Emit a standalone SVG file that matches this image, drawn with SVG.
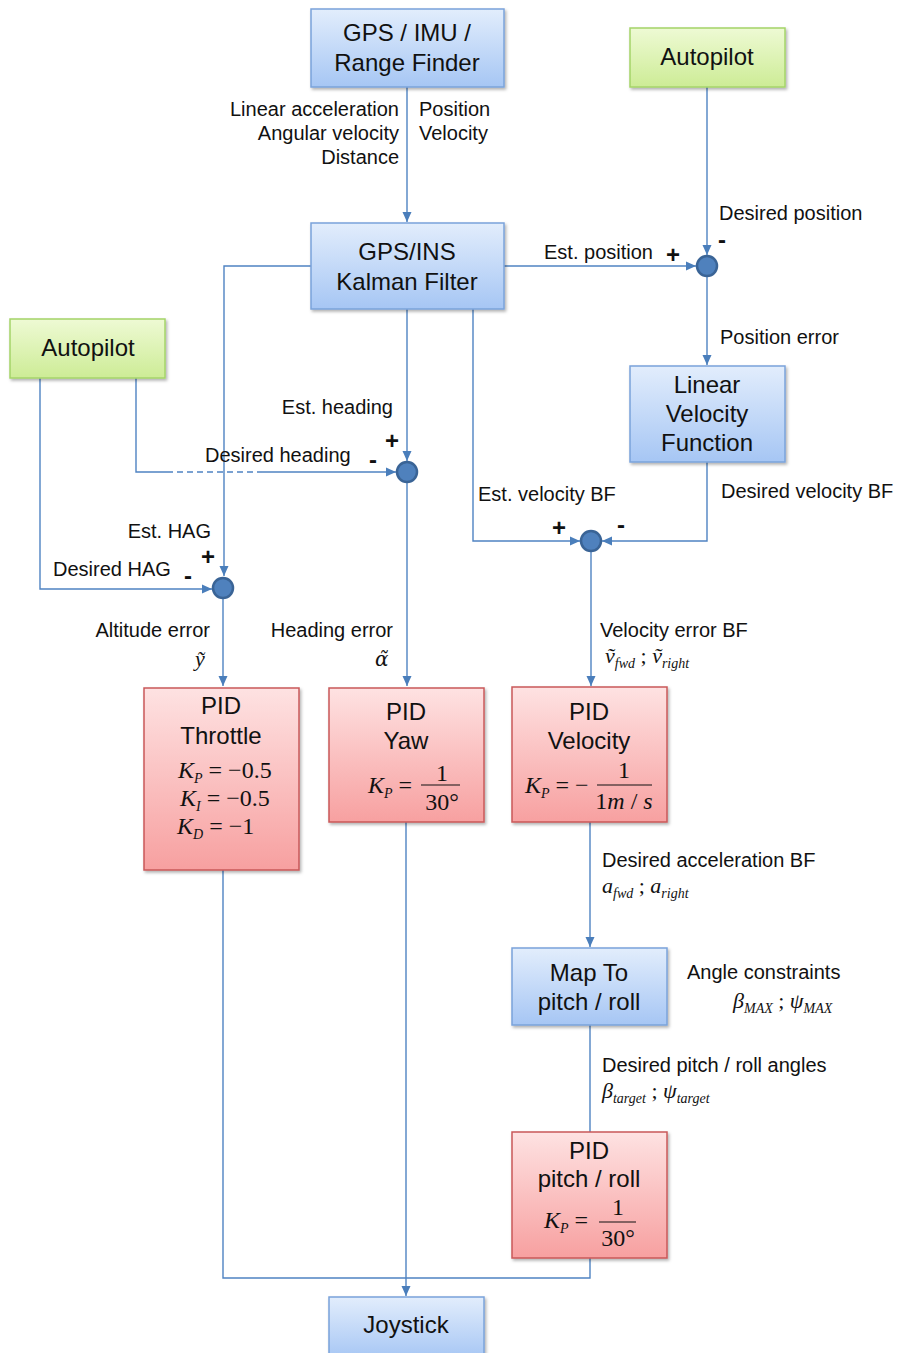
<svg xmlns="http://www.w3.org/2000/svg" width="897" height="1353" viewBox="0 0 897 1353">
  <defs>
    <linearGradient id="gBlue" x1="0" y1="0" x2="0" y2="1">
      <stop offset="0" stop-color="#e2edfc"/>
      <stop offset="1" stop-color="#a6c6f4"/>
    </linearGradient>
    <linearGradient id="gGreen" x1="0" y1="0" x2="0" y2="1">
      <stop offset="0" stop-color="#eefad4"/>
      <stop offset="1" stop-color="#cdec96"/>
    </linearGradient>
    <linearGradient id="gRed" x1="0" y1="0" x2="0" y2="1">
      <stop offset="0" stop-color="#fee2e2"/>
      <stop offset="1" stop-color="#f7a0a0"/>
    </linearGradient>
    <filter id="shadow" x="-10%" y="-10%" width="125%" height="125%">
      <feDropShadow dx="1.5" dy="2" stdDeviation="1.5" flood-color="#000" flood-opacity="0.3"/>
    </filter>
    <marker id="arrow" viewBox="0 0 10 10" refX="10" refY="5" markerWidth="10" markerHeight="10" markerUnits="userSpaceOnUse" orient="auto">
      <path d="M0,0.5 L10,5 L0,9.5 Z" fill="#4a7ebb"/>
    </marker>
  </defs>
  <style>
    .blue { fill: url(#gBlue); stroke: #7aa3da; stroke-width: 1.5; filter: url(#shadow); }
    .green { fill: url(#gGreen); stroke: #a4d468; stroke-width: 1.5; filter: url(#shadow); }
    .red { fill: url(#gRed); stroke: #c9585a; stroke-width: 1.5; filter: url(#shadow); }
    .bt { font-family: "Liberation Sans", Arial, sans-serif; font-size: 24px; fill: #111; text-anchor: middle; }
    .lb { font-family: "Liberation Sans", Arial, sans-serif; font-size: 20px; fill: #111; }
    .sg { font-family: "Liberation Sans", Arial, sans-serif; font-size: 24px; font-weight: bold; fill: #111; }
    .m { font-family: "Liberation Serif", "Times New Roman", serif; font-size: 22px; fill: #111; }
    .mb { font-family: "Liberation Serif", "Times New Roman", serif; font-size: 24px; fill: #111; }
    .mi { font-style: italic; }
    .sub { font-size: 14px; font-style: italic; }
    .w { fill: none; stroke: #4f83c2; stroke-width: 1.4; }
    .wa { fill: none; stroke: #4f83c2; stroke-width: 1.4; marker-end: url(#arrow); }
    .dash { fill: none; stroke: #4f83c2; stroke-width: 1.4; stroke-dasharray: 6 4; }
    .sum { fill: #4f81bd; stroke: #3a6496; stroke-width: 2.5; }
    .fr { stroke: #111; stroke-width: 1.2; }
  </style>

  <!-- signal lines -->
  <g id="connectors">
    <path class="wa" d="M407 87 V222"/>
    <path class="wa" d="M504 266 H696"/>
    <path class="wa" d="M707 87 V255"/>
    <path class="wa" d="M707 277 V365"/>
    <path class="wa" d="M707 462 V541 H602"/>
    <path class="wa" d="M473 309 V541 H580"/>
    <path class="wa" d="M591 552 V686"/>
    <path class="wa" d="M311 266 H224 V576"/>
    <path class="wa" d="M40 378 V589 H212"/>
    <path class="w" d="M136 378 V472 H167"/>
    <path class="dash" d="M167 472 H262"/>
    <path class="wa" d="M262 472 H396"/>
    <path class="wa" d="M407 309 V461"/>
    <path class="wa" d="M407 483 V686"/>
    <path class="wa" d="M223 599 V686"/>
    <path class="wa" d="M590 822 V947"/>
    <path class="w" d="M590 1025 V1132"/>
    <path class="w" d="M223 870 V1278 H590 V1258"/>
    <path class="wa" d="M406 822 V1296"/>
  </g>

  <!-- summing junctions -->
  <g id="sum-position"><circle class="sum" cx="707" cy="266" r="10"/></g>
  <g id="sum-velocity"><circle class="sum" cx="591" cy="541" r="10"/></g>
  <g id="sum-heading"><circle class="sum" cx="407" cy="472" r="10"/></g>
  <g id="sum-hag"><circle class="sum" cx="223" cy="588" r="10"/></g>

  <!-- blocks -->
  <g id="sensors">
    <rect class="blue" x="311" y="9" width="193" height="78"/>
    <text class="bt" x="407" y="41">GPS / IMU /</text>
    <text class="bt" x="407" y="71">Range Finder</text>
  </g>
  <g id="kalman">
    <rect class="blue" x="311" y="223" width="193" height="86"/>
    <text class="bt" x="407" y="260">GPS/INS</text>
    <text class="bt" x="407" y="290">Kalman Filter</text>
  </g>
  <g id="autopilot-position">
    <rect class="green" x="630" y="28" width="155" height="59"/>
    <text class="bt" x="707" y="65">Autopilot</text>
  </g>
  <g id="autopilot-attitude">
    <rect class="green" x="10" y="319" width="155" height="59"/>
    <text class="bt" x="88" y="356">Autopilot</text>
  </g>
  <g id="linear-velocity">
    <rect class="blue" x="630" y="366" width="155" height="96"/>
    <text class="bt" x="707" y="393">Linear</text>
    <text class="bt" x="707" y="422">Velocity</text>
    <text class="bt" x="707" y="451">Function</text>
  </g>
  <g id="pid-throttle">
    <rect class="red" x="144" y="688" width="155" height="182"/>
    <text class="bt" x="221" y="714">PID</text>
    <text class="bt" x="221" y="744">Throttle</text>
    <text class="mb" x="178" y="778"><tspan class="mi">K</tspan><tspan class="sub" dy="5">P</tspan><tspan dy="-5"> = −0.5</tspan></text>
    <text class="mb" x="180" y="806"><tspan class="mi">K</tspan><tspan class="sub" dy="5">I</tspan><tspan dy="-5">  = −0.5</tspan></text>
    <text class="mb" x="177" y="834"><tspan class="mi">K</tspan><tspan class="sub" dy="5">D</tspan><tspan dy="-5"> = −1</tspan></text>
  </g>
  <g id="pid-yaw">
    <rect class="red" x="329" y="688" width="155" height="134"/>
    <text class="bt" x="406" y="720">PID</text>
    <text class="bt" x="406" y="749">Yaw</text>
    <text class="mb" x="368" y="793"><tspan class="mi">K</tspan><tspan class="sub" dy="5">P</tspan><tspan dy="-5"> =</tspan></text>
    <text class="mb" x="442" y="781" text-anchor="middle">1</text>
    <line class="fr" x1="421" y1="785" x2="460" y2="785"/>
    <text class="mb" x="442" y="810" text-anchor="middle">30°</text>
  </g>
  <g id="pid-velocity">
    <rect class="red" x="512" y="687" width="155" height="135"/>
    <text class="bt" x="589" y="720">PID</text>
    <text class="bt" x="589" y="749">Velocity</text>
    <text class="mb" x="525" y="793"><tspan class="mi">K</tspan><tspan class="sub" dy="5">P</tspan><tspan dy="-5"> = −</tspan></text>
    <text class="mb" x="624" y="778" text-anchor="middle">1</text>
    <line class="fr" x1="597" y1="785" x2="652" y2="785"/>
    <text class="mb" x="624" y="809" text-anchor="middle">1<tspan class="mi">m</tspan> / <tspan class="mi">s</tspan></text>
  </g>
  <g id="map-pitch-roll">
    <rect class="blue" x="512" y="948" width="155" height="77"/>
    <text class="bt" x="589" y="981">Map To</text>
    <text class="bt" x="589" y="1010">pitch / roll</text>
  </g>
  <g id="pid-pitch-roll">
    <rect class="red" x="512" y="1132" width="155" height="126"/>
    <text class="bt" x="589" y="1159">PID</text>
    <text class="bt" x="589" y="1187">pitch / roll</text>
    <text class="mb" x="544" y="1228"><tspan class="mi">K</tspan><tspan class="sub" dy="5">P</tspan><tspan dy="-5"> =</tspan></text>
    <text class="mb" x="618" y="1215" font-size="23" text-anchor="middle">1</text>
    <line class="fr" x1="599" y1="1222" x2="636" y2="1222"/>
    <text class="mb" x="618" y="1246" text-anchor="middle">30°</text>
  </g>
  <g id="joystick">
    <rect class="blue" x="329" y="1297" width="155" height="62"/>
    <text class="bt" x="406" y="1333">Joystick</text>
  </g>

  <!-- signal labels -->
  <g id="labels">
    <text class="lb" x="399" y="116" text-anchor="end">Linear acceleration</text>
    <text class="lb" x="399" y="140" text-anchor="end">Angular velocity</text>
    <text class="lb" x="399" y="164" text-anchor="end">Distance</text>
    <text class="lb" x="419" y="116">Position</text>
    <text class="lb" x="419" y="140">Velocity</text>

    <text class="lb" x="719" y="220">Desired position</text>
    <text class="sg" x="718" y="248">-</text>
    <text class="lb" x="544" y="259">Est. position</text>
    <text class="sg" x="666" y="263">+</text>
    <text class="lb" x="720" y="344">Position error</text>

    <text class="lb" x="721" y="498">Desired velocity BF</text>
    <text class="lb" x="478" y="501">Est. velocity BF</text>
    <text class="sg" x="552" y="536">+</text>
    <text class="sg" x="617" y="533">-</text>
    <text class="lb" x="600" y="637">Velocity error BF</text>
    <text class="m" x="605" y="663"><tspan class="mi">ṽ</tspan><tspan class="sub" dy="5">fwd</tspan><tspan dy="-5"> ; </tspan><tspan class="mi">ṽ</tspan><tspan class="sub" dy="5">right</tspan></text>

    <text class="lb" x="393" y="414" text-anchor="end">Est. heading</text>
    <text class="sg" x="385" y="449">+</text>
    <text class="lb" x="205" y="462">Desired heading</text>
    <text class="sg" x="369" y="468">-</text>

    <text class="lb" x="211" y="538" text-anchor="end">Est. HAG</text>
    <text class="sg" x="201" y="565">+</text>
    <text class="lb" x="53" y="576">Desired HAG</text>
    <text class="sg" x="184" y="584">-</text>

    <text class="lb" x="210" y="637" text-anchor="end">Altitude error</text>
    <text class="m mi" x="195" y="666">ỹ</text>
    <text class="lb" x="393" y="637" text-anchor="end">Heading error</text>
    <text x="375" y="666" font-family="'DejaVu Serif', serif" font-style="italic" font-size="20" fill="#111">α̃</text>

    <text class="lb" x="602" y="867">Desired acceleration BF</text>
    <text class="m" x="602" y="893"><tspan class="mi">a</tspan><tspan class="sub" dy="5">fwd</tspan><tspan dy="-5"> ; </tspan><tspan class="mi">a</tspan><tspan class="sub" dy="5">right</tspan></text>

    <text class="lb" x="687" y="979">Angle constraints</text>
    <text class="m" x="733" y="1008"><tspan class="mi">β</tspan><tspan class="sub" dy="5">MAX</tspan><tspan dy="-5"> ; </tspan><tspan class="mi">ψ</tspan><tspan class="sub" dy="5">MAX</tspan></text>

    <text class="lb" x="602" y="1072">Desired pitch / roll angles</text>
    <text class="m" x="602" y="1098"><tspan class="mi">β</tspan><tspan class="sub" dy="5">target</tspan><tspan dy="-5"> ; </tspan><tspan class="mi">ψ</tspan><tspan class="sub" dy="5">target</tspan></text>
  </g>
</svg>
